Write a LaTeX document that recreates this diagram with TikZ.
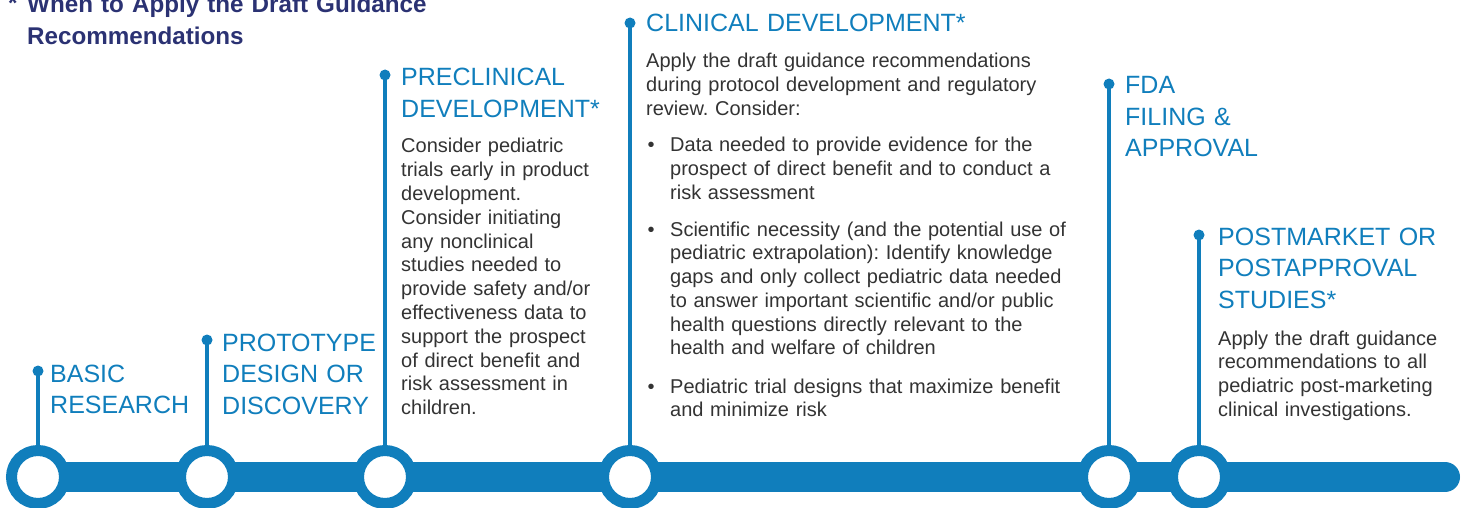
\documentclass[tikz,border=0pt]{standalone}
\usepackage{fontspec}
\setmainfont{Liberation Sans}
\usetikzlibrary{backgrounds}
\definecolor{fdablue}{HTML}{107EBC}
\definecolor{navy}{HTML}{2B3273}
\definecolor{bodygray}{HTML}{333333}
\tikzset{
  headtext/.style={anchor=base west, inner sep=0pt, text width=420pt, align=left,
    text=fdablue, font=\fontsize{25}{31.5}\selectfont},
  bodytext/.style={anchor=base west, inner sep=0pt, text width=#1, align=left,
    text=bodygray, font=\fontsize{20}{23.8}\selectfont},
  bodytext/.default=420pt,
  titletext/.style={anchor=base west, inner sep=0pt, text width=500pt, align=left,
    text=navy, font=\bfseries\fontsize{24.2}{32.5}\selectfont},
  bulletmark/.style={anchor=base, inner sep=0pt, text=bodygray, font=\fontsize{20}{23.8}\selectfont},
  ring/.style={circle, draw=fdablue, line width=11pt, fill=white, inner sep=0pt, minimum size=53pt},
  dotnode/.style={circle, fill=fdablue, inner sep=0pt, minimum size=11pt},
  stem/.style={draw=fdablue, line width=3.5pt},
  barline/.style={draw=fdablue, line width=30pt, line cap=round}
}
\frenchspacing
\hyphenpenalty=10000
\begin{document}
\begin{tikzpicture}[x=1pt,y=-1pt]
\useasboundingbox (0,0) rectangle (1465,508);

% title
\node[titletext] (star) at (8,12) {*};
\node[titletext] (title) at (27,12.5) {When to Apply the Draft Guidance\\Recommendations};

% timeline circles
\node[ring] (c1) at (38,477) {};
\node[ring] (c2) at (207,477) {};
\node[ring] (c3) at (385,477) {};
\node[ring] (c4) at (630,477) {};
\node[ring] (c5) at (1109,477) {};
\node[ring] (c6) at (1199,477) {};
\coordinate (barend) at (1445,477);
\begin{scope}[on background layer]
  \draw[barline] (c1.center) -- (barend);
\end{scope}

% dots
\node[dotnode] (d1) at (38,371) {};
\node[dotnode] (d2) at (207,340) {};
\node[dotnode] (d3) at (385,75) {};
\node[dotnode] (d4) at (630,23) {};
\node[dotnode] (d5) at (1109,84) {};
\node[dotnode] (d6) at (1199,235) {};

% stems
\draw[stem] (d1.center) -- (c1.north);
\draw[stem] (d2.center) -- (c2.north);
\draw[stem] (d3.center) -- (c3.north);
\draw[stem] (d4.center) -- (c4.north);
\draw[stem] (d5.center) -- (c5.north);
\draw[stem] (d6.center) -- (c6.north);

% headings
\node[headtext] (h1) at (50,382) {BASIC\\RESEARCH};
\node[headtext] (h2) at (222,351) {PROTOTYPE\\DESIGN OR\\DISCOVERY};
\node[headtext] (h3) at (401,86) {PRECLINICAL\\DEVELOPMENT*};
\node[headtext] (h4) at (646,32) {CLINICAL DEVELOPMENT*};
\node[headtext] (h5) at (1125,94) {FDA\\FILING \&\\APPROVAL};
\node[headtext] (h6) at (1218,245) {POSTMARKET OR\\POSTAPPROVAL\\STUDIES*};

% body texts
\node[bodytext=220pt] (t3) at (401,153) {Consider pediatric\\trials early in product\\development.\\Consider initiating\\any nonclinical\\studies needed to\\provide safety and/or\\effectiveness data to\\support the prospect\\of direct benefit and\\risk assessment in\\children.};

\node[bodytext] (t4) at (646,68) {Apply the draft guidance recommendations\\during protocol development and regulatory\\review. Consider:};

\node[bulletmark] (m1) at (651,152) {\textbullet};
\node[bodytext] (t4a) at (670,152) {Data needed to provide evidence for the\\prospect of direct benefit and to conduct a\\risk assessment};
\node[bulletmark] (m2) at (651,236) {\textbullet};
\node[bodytext] (t4b) at (670,236) {Scientific necessity (and the potential use of\\pediatric extrapolation): Identify knowledge\\gaps and only collect pediatric data needed\\to answer important scientific and/or public\\health questions directly relevant to the\\health and welfare of children};
\node[bulletmark] (m3) at (651,393) {\textbullet};
\node[bodytext] (t4c) at (670,393) {Pediatric trial designs that maximize benefit\\and minimize risk};

\node[bodytext=240pt] (t6) at (1218,345) {Apply the draft guidance\\recommendations to all\\pediatric post-marketing\\clinical investigations.};
\end{tikzpicture}
\end{document}
